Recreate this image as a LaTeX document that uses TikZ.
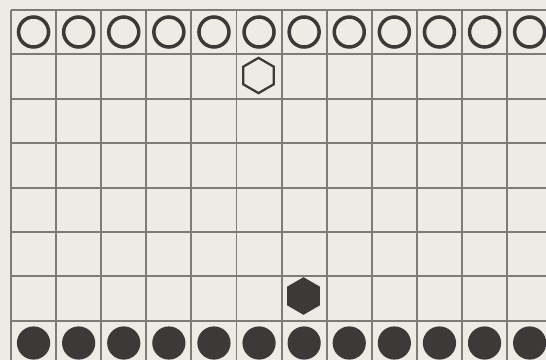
\documentclass[tikz,border=0pt]{standalone}
\usepackage{tikz}
\usetikzlibrary{shapes.geometric}
\usepackage{xcolor}
\definecolor{paper}{RGB}{238,235,228}
\definecolor{gridgray}{RGB}{125,123,119}
\definecolor{ink}{RGB}{60,58,56}

\begin{document}
\begin{tikzpicture}[x=0.025cm, y=-0.025cm,
    whitestone/.style={circle, draw=ink, line width=2.5pt, minimum size=0.75cm, inner sep=0pt},
    blackstone/.style={circle, fill=ink, minimum size=0.83cm, inner sep=0pt},
    whitehex/.style={regular polygon, regular polygon sides=6, shape border rotate=30, draw=ink, line width=1.6pt, minimum size=0.88cm, inner sep=0pt},
    blackhex/.style={regular polygon, regular polygon sides=6, shape border rotate=30, fill=ink, minimum size=0.94cm, inner sep=0pt}]
                % Paper
                \fill[paper] (0,0) rectangle (546,360);
                \useasboundingbox (0,0) rectangle (546,360);
                \clip (0,0) rectangle (546,360);

                % Board grid
                \foreach \c in {0,...,12}
                    \draw[gridgray, line width=1.3pt] (11+45.1*\c,10) -- (11+45.1*\c,375);
                \foreach \r in {0,...,8}
                    \draw[gridgray, line width=1.3pt] (11,10+44.4*\r) -- (560,10+44.4*\r);

                % Stones
                \foreach \c in {1,...,12} {
                    \node[whitestone] (w\c) at (11+45.1*\c-22.55,32) {};
                    \node[blackstone] (b\c) at (11+45.1*\c-22.55,343) {};
                }

                % Hexagons
                \node[whitehex] (wh) at (258.5,75.5) {};
                \node[blackhex] (bh) at (303.5,296) {};
            \end{tikzpicture}
\end{document}
